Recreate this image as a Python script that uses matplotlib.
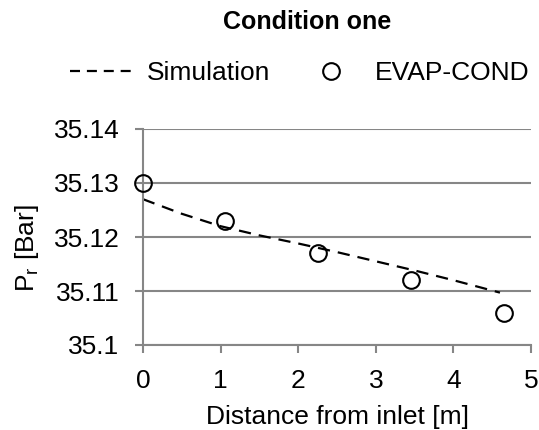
import matplotlib.pyplot as plt
from matplotlib.lines import Line2D

plt.rcParams['font.family'] = ['Liberation Sans', 'DejaVu Sans']
plt.rcParams['mathtext.default'] = 'regular'

# --- data ---
sim_x = [0, 0.5, 1.0, 1.5, 2.0, 2.5, 3.0, 3.5, 4.0, 4.6]
sim_p = [35.127, 35.1243, 35.1220, 35.1203, 35.1188, 35.1172, 35.1155, 35.1138, 35.1120, 35.1097]

exp_x = [0, 1.06, 2.25, 3.46, 4.65]
exp_p = [35.130, 35.123, 35.117, 35.112, 35.106]

y_ticks = [35.10, 35.11, 35.12, 35.13, 35.14]
y_labels = ['35.1', '35.11', '35.12', '35.13', '35.14']
x_ticks = [0, 1, 2, 3, 4, 5]

GRAY = '#868686'

fig = plt.figure(figsize=(5.39, 4.30), dpi=100)
ax = fig.add_axes([143 / 539, 1 - 345 / 430, 388 / 539, 216 / 430])

ax.plot(sim_x, sim_p, color='black', lw=1.6, dashes=(5.5, 3.6))
pts, = ax.plot(exp_x, exp_p, 'o', mfc='none', mec='black', ms=12, mew=1.5,
               clip_on=False, zorder=5, label='EVAP-COND')

ax.set_xlim(0, 5)
ax.set_ylim(35.10, 35.14)
ax.set_xticks(x_ticks)
ax.set_yticks(y_ticks)
ax.set_yticklabels(y_labels)

ax.grid(axis='y', color=GRAY, lw=1.5)
ax.set_axisbelow(True)
for s in ['top', 'right']:
    ax.spines[s].set_visible(False)
for s in ['left', 'bottom']:
    ax.spines[s].set_color(GRAY)
    ax.spines[s].set_linewidth(1.5)
ax.tick_params(axis='both', colors=GRAY, labelcolor='black', labelsize=19,
               length=6, width=1.5)
ax.tick_params(axis='y', pad=11)
ax.tick_params(axis='x', pad=11)

ax.set_xlabel('Distance from inlet [m]', fontsize=19, labelpad=9)
fig.text(27 / 539, 1 - 248 / 430, r'$P_r$ [Bar]', rotation=90, fontsize=19,
         ha='center', va='center')

fig.text(307 / 539, 1 - 22 / 430, 'Condition one', fontsize=18, fontweight='bold',
         ha='center', va='center')

# legend proxy with shorter dashes (4 dashes in the handle)
sim_handle = Line2D([], [], color='black', lw=1.6, dashes=(4.5, 3.1), label='Simulation')
fig.legend(handles=[sim_handle, pts], loc='center', bbox_to_anchor=(300 / 539, 1 - 73 / 430),
           ncol=2, frameon=False, fontsize=19, handlelength=2.46,
           handletextpad=0.45, columnspacing=1.04, borderaxespad=0, borderpad=0)

plt.savefig('out.png', dpi=100)
